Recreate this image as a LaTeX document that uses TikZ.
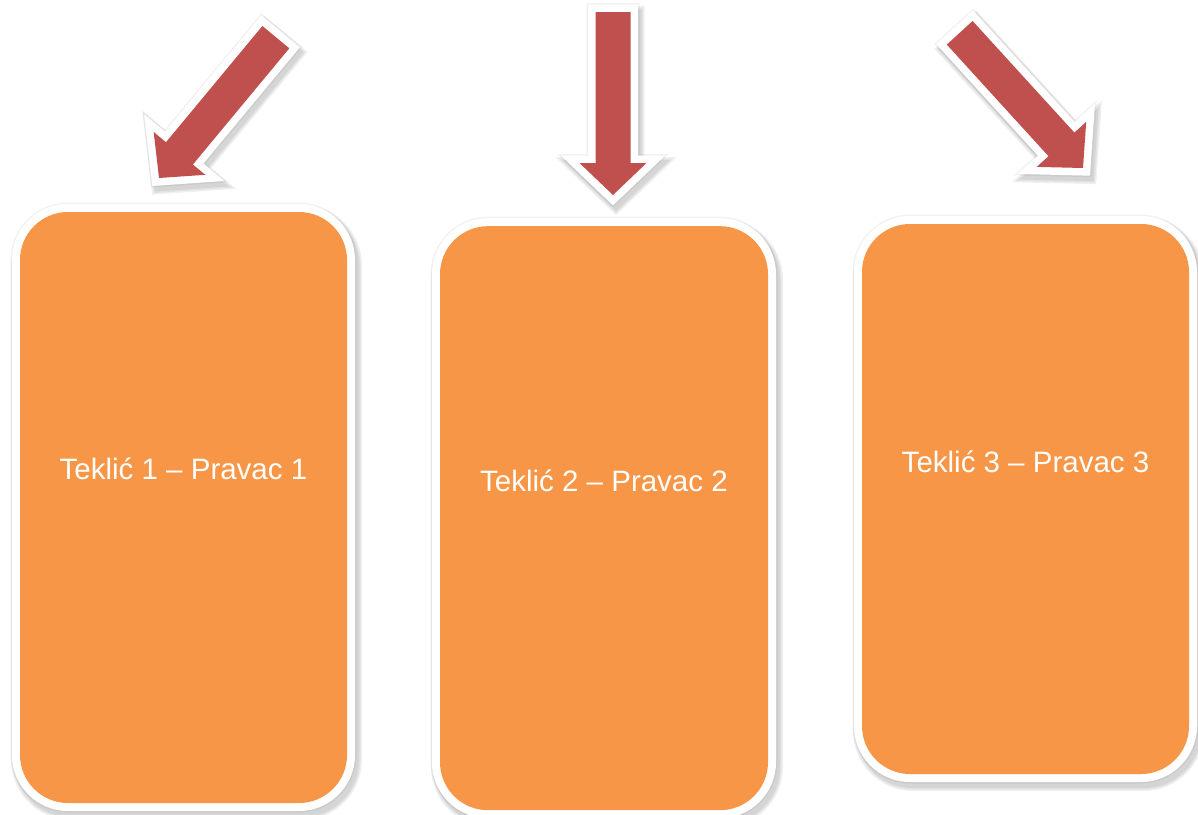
\documentclass[tikz,border=0pt]{standalone}
\usepackage{fontspec}
\setmainfont{Liberation Sans}
\definecolor{boxorange}{HTML}{F79646}
\definecolor{arrowred}{HTML}{C0504D}
\tikzset{
  shadowlayer/.style={preaction={draw=black, draw opacity=0.06, line width=#1, transform canvas={shift={(3pt,-5pt)}}}},
  haloline/.style={preaction={draw=black, draw opacity=0.05, line width=#1}},
  box/.style={rectangle, rounded corners=48pt, inner sep=0pt, outer sep=0pt,
    haloline=19pt,
    shadowlayer=24pt, shadowlayer=21pt, shadowlayer=18pt,
    preaction={draw=white, line width=16pt}, fill=boxorange},
  arrowshape/.style={line join=miter,
    haloline=18pt,
    shadowlayer=22pt, shadowlayer=19pt, shadowlayer=16pt,
    preaction={draw=white, line width=15pt, line join=miter}, fill=arrowred},
  lbl/.style={text=white, font=\fontsize{29.5}{35}\selectfont, anchor=base, inner sep=0pt}
}
\begin{document}
\begin{tikzpicture}[x=1pt, y=-1pt]
\useasboundingbox (0,0) rectangle (1198,814);
% boxes
\node[box, minimum width=327pt, minimum height=591pt] (b1) at (183.5,507.5) {};
\node[box, minimum width=328pt, minimum height=584pt] (b2) at (604,518.2) {};
\node[box, minimum width=327pt, minimum height=550pt] (b3) at (1025.5,499) {};
% labels
\node[lbl] (t1) at (183.5,479) {Teklić 1 – Pravac 1};
\node[lbl] (t2) at (604,491) {Teklić 2 – Pravac 2};
\node[lbl] (t3) at (1025.5,472) {Teklić 3 – Pravac 3};
% arrows
\path[arrowshape] (159,178) -- (205.2,174.8) -- (192.9,164.5) -- (289.3,48.3)
  -- (262.4,26.0) -- (166.0,142.2) -- (153.7,132.0) -- cycle;
\path[arrowshape] (613,195) -- (646.5,163) -- (630.5,163) -- (630.5,12)
  -- (595.5,12) -- (595.5,163) -- (579.5,163) -- cycle;
\path[arrowshape] (1083,168) -- (1086.2,121.8) -- (1074.4,132.6) -- (972.6,21.0)
  -- (946.8,44.6) -- (1048.5,156.2) -- (1036.7,166.9) -- cycle;
\end{tikzpicture}
\end{document}
